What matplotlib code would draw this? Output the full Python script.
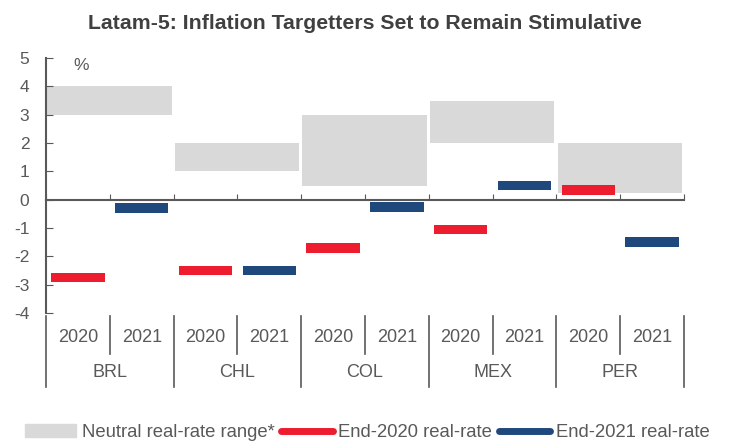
import matplotlib.pyplot as plt
import numpy as np
from matplotlib.lines import Line2D
from matplotlib.patches import Patch

plt.rcParams['font.family'] = ['Liberation Sans', 'DejaVu Sans']
plt.rcParams['axes.unicode_minus'] = False

countries = ["BRL", "CHL", "COL", "MEX", "PER"]
years = ["2020", "2021"]
neutral_low = [3.0, 1.0, 0.5, 2.0, 0.25]
neutral_high = [4.0, 2.0, 3.0, 3.5, 2.0]
real_2020 = [-2.75, -2.5, -1.7, -1.05, 0.35]
real_2021 = [-0.3, -2.5, -0.25, 0.5, -1.5]

gray = "#D9D9D9"
red = "#ED1C2E"
blue = "#1F497D"
txt = "#595959"

fig = plt.figure(figsize=(7.3, 4.45), dpi=100)
ax = fig.add_axes([0.063, 0.2966, 0.874, 0.573])

g = np.arange(len(countries))
ax.bar(g * 2 + 0.02, np.array(neutral_high) - np.array(neutral_low), bottom=neutral_low,
       width=1.95, align="edge", color=gray, zorder=1)
th = 0.34
ax.bar(g * 2 + 0.5, th, bottom=np.array(real_2020) - th / 2, width=0.84, color=red, zorder=3)
ax.bar(g * 2 + 1.5, th, bottom=np.array(real_2021) - th / 2, width=0.84, color=blue, zorder=3)

ax.set_xlim(0, 10)
ax.set_ylim(-4, 5)
ax.set_yticks(range(-4, 6))
ax.tick_params(axis="y", direction="in", length=5, color=txt, labelcolor=txt, labelsize=12.5, pad=12)
ax.set_xticks(range(0, 11))
ax.tick_params(axis="x", direction="in", length=4, color=txt, labelbottom=False)
ax.spines["top"].set_visible(False)
ax.spines["right"].set_visible(False)
ax.spines["bottom"].set_position(("data", 0))
for s in ["left", "bottom"]:
    ax.spines[s].set_color(txt)
    ax.spines[s].set_linewidth(1.5)
ax.text(0.55, 4.75, "%", color=txt, fontsize=12.5, ha="center", va="center")

# category labels below
tr = ax.get_xaxis_transform()
for i, c in enumerate(countries):
    for j, y in enumerate(years):
        ax.text(i * 2 + j + 0.5, -0.095, y, transform=tr, ha="center", va="center",
                fontsize=13, color=txt)
    ax.text(i * 2 + 1, -0.235, c, transform=tr, ha="center", va="center",
            fontsize=13, color=txt)
    ax.plot([i * 2 + 1, i * 2 + 1], [-0.01, -0.16], transform=tr, color=txt,
            lw=1.2, clip_on=False)
for k in range(len(countries) + 1):
    ax.plot([k * 2, k * 2], [-0.01, -0.29], transform=tr, color=txt, lw=1.2, clip_on=False)

fig.text(0.5, 0.948, "Latam-5: Inflation Targetters Set to Remain Stimulative",
         ha="center", va="center", fontsize=15.3, fontweight="bold", color="#404040")

handles = [Patch(color=gray),
           Line2D([], [], color=red, lw=5, solid_capstyle="round"),
           Line2D([], [], color=blue, lw=5, solid_capstyle="round")]
labels = ["Neutral real-rate range*", "End-2020 real-rate", "End-2021 real-rate"]
fig.legend(handles, labels, loc="center", bbox_to_anchor=(0.503, 0.028), ncol=3,
           frameon=False, fontsize=13.3, handlelength=2.8, handletextpad=0.3,
           columnspacing=0.35, labelcolor=txt)

plt.savefig("out.png", dpi=100)
